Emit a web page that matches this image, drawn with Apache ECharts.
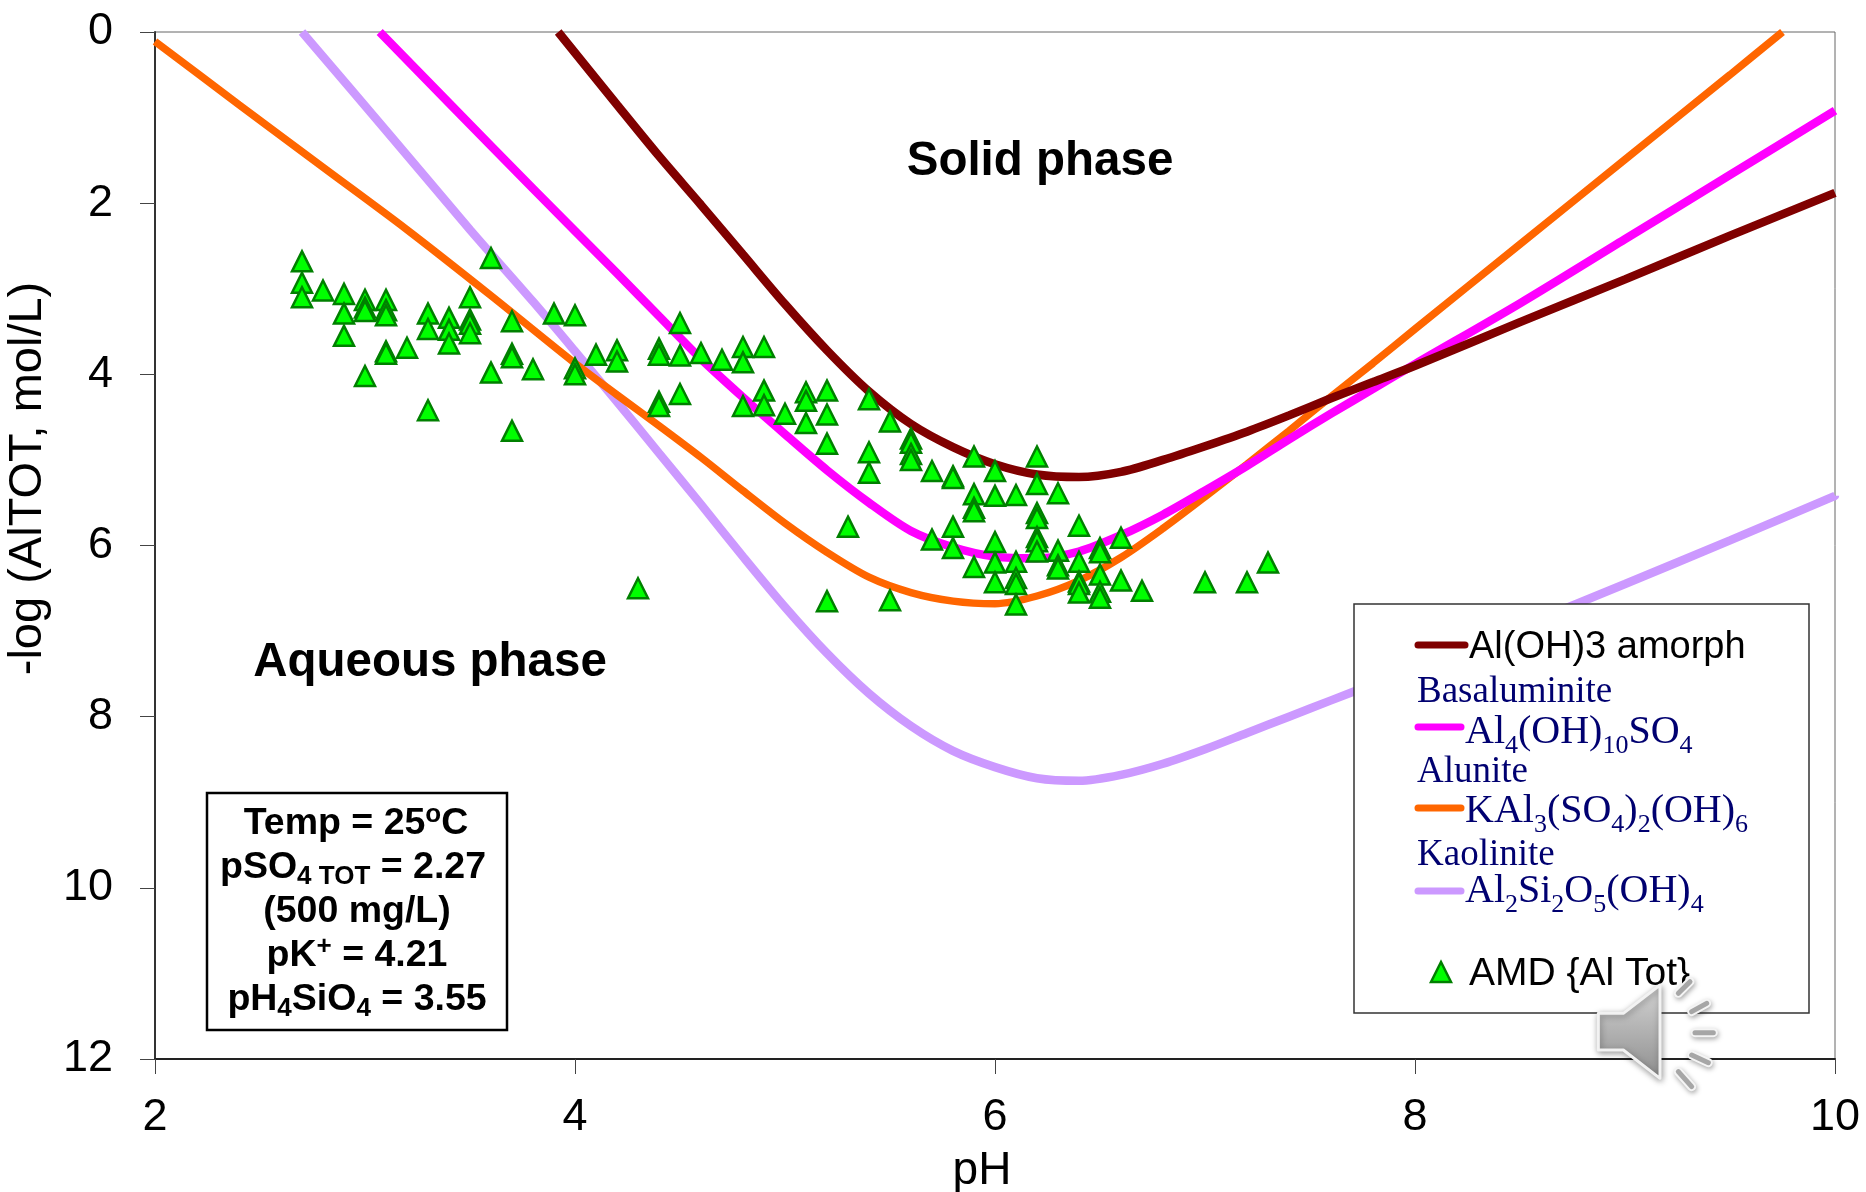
<!DOCTYPE html>
<html><head><meta charset="utf-8">
<style>html,body{margin:0;padding:0;background:#fff}#c{width:1866px;height:1192px}</style>
<script src="https://cdn.jsdelivr.net/npm/echarts@6/dist/echarts.min.js"></script>
</head><body><div id="c"></div>
<script>
const amorph = [[3.92,0],[4.2,0.85],[4.4,1.45],[4.6,2.02],[4.8,2.6],[5.0,3.18],[5.2,3.72],[5.4,4.2],[5.6,4.58],[5.8,4.85],[6.0,5.05],[6.2,5.17],[6.4,5.2],[6.6,5.14],[6.8,5.0],[7.0,4.84],[7.2,4.67],[7.4,4.48],[7.6,4.28],[7.8,4.09],[8,3.9],[8.5,3.39],[9,2.89],[9.5,2.38],[10,1.88]];
const basaluminite = [[3.07,0],[3.4,0.83],[3.8,1.83],[4.2,2.82],[4.4,3.32],[4.6,3.82],[4.8,4.27],[5.0,4.7],[5.2,5.12],[5.4,5.5],[5.6,5.83],[5.8,6.02],[6.0,6.13],[6.2,6.15],[6.4,6.07],[6.6,5.88],[6.8,5.64],[7.0,5.36],[7.2,5.07],[7.4,4.76],[7.6,4.46],[7.8,4.17],[8,3.88],[8.5,3.17],[9,2.42],[9.5,1.67],[10,0.92]];
const alunite = [[2,0.11],[2.4,0.85],[2.8,1.58],[3.2,2.31],[3.6,3.08],[4.0,3.87],[4.2,4.24],[4.4,4.6],[4.6,4.97],[4.8,5.36],[5.0,5.74],[5.2,6.08],[5.4,6.37],[5.6,6.55],[5.8,6.65],[6.0,6.68],[6.2,6.59],[6.4,6.41],[6.6,6.14],[6.8,5.8],[7.0,5.43],[7.2,5.05],[7.4,4.66],[7.6,4.26],[7.8,3.87],[8,3.47],[8.5,2.48],[9,1.49],[9.5,0.5],[9.75,0]];
const kaolinite = [[2.7,0],[3.1,1.15],[3.5,2.31],[3.8,3.15],[4.0,3.73],[4.2,4.32],[4.4,4.92],[4.6,5.52],[4.8,6.13],[5.0,6.72],[5.2,7.26],[5.4,7.73],[5.6,8.11],[5.8,8.4],[6.0,8.59],[6.2,8.72],[6.4,8.75],[6.6,8.68],[6.8,8.55],[7.0,8.38],[7.2,8.19],[7.4,8.0],[7.6,7.81],[7.8,7.62],[8,7.43],[8.5,6.95],[9,6.45],[9.5,5.94],[10,5.42]];
const amdPH = [2.7,2.7,2.7,2.8,2.9,2.9,2.9,3.0,3.0,3.0,3.0,3.1,3.1,3.1,3.1,3.1,3.2,3.3,3.3,3.3,3.4,3.4,3.4,3.5,3.5,3.5,3.5,3.6,3.6,3.7,3.7,3.7,3.7,3.8,3.9,4.0,4.0,4.0,4.1,4.2,4.2,4.3,4.4,4.4,4.4,4.4,4.5,4.5,4.5,4.6,4.7,4.8,4.8,4.8,4.9,4.9,4.9,5.0,5.1,5.1,5.1,5.2,5.2,5.2,5.2,5.3,5.4,5.4,5.4,5.5,5.5,5.6,5.6,5.6,5.6,5.7,5.7,5.8,5.8,5.8,5.8,5.9,5.9,5.9,5.9,5.9,6.0,6.0,6.0,6.0,6.0,6.1,6.1,6.1,6.1,6.1,6.2,6.2,6.2,6.2,6.2,6.2,6.2,6.3,6.3,6.3,6.3,6.4,6.4,6.4,6.4,6.4,6.5,6.5,6.5,6.5,6.5,6.6,6.6,6.7,7.0,7.2,7.3];
const amdLog = [2.68,2.93,3.10,3.02,3.06,3.29,3.55,3.13,3.22,3.26,4.02,3.13,3.25,3.31,3.73,3.76,3.69,3.29,3.47,4.42,3.34,3.48,3.64,3.10,3.36,3.41,3.52,2.64,3.98,3.38,3.76,3.80,4.66,3.94,3.29,3.31,3.93,4.0,3.77,3.72,3.85,6.5,3.70,3.77,4.32,4.37,3.40,3.78,4.23,3.75,3.83,3.68,3.86,4.37,3.68,4.19,4.36,4.46,4.21,4.31,4.57,4.19,4.47,4.81,6.65,5.78,4.29,4.91,5.15,4.55,6.64,4.75,4.80,4.93,5.0,5.13,5.93,5.19,5.21,5.78,6.03,4.96,5.4,5.56,5.6,6.25,5.13,5.42,5.96,6.2,6.43,5.41,6.19,6.38,6.45,6.69,4.96,5.28,5.62,5.68,5.9,5.95,6.07,5.39,6.06,6.23,6.27,5.77,6.19,6.42,6.45,6.55,6.03,6.08,6.34,6.54,6.61,5.91,6.41,6.53,6.43,6.43,6.2];
const xTicks = [2,10,2];
const yTicks = [0,12,2];
const curveNames = ['Al(OH)3 amorph','Basaluminite Al4(OH)10SO4','Alunite KAl3(SO4)2(OH)6','Kaolinite Al2Si2O5(OH)4'];
const curveColors = ['#800000','#ff00ff','#ff6600','#cc99ff'];

const sans = '"Liberation Sans", Arial, sans-serif';
const serif = '"Liberation Serif", "Times New Roman", serif';
const chart = echarts.init(document.getElementById('c'), null, {renderer:'canvas'});

function curve(name,color,data,width){
  return {name,type:'line',data,symbol:'none',smooth:0.3,clip:true,z:2,
    lineStyle:{color,width,cap:'butt'}};
}
const navy = '#000070';
const serifRich = {
  n:{fontFamily:serif,fontSize:37,fill:navy,lineHeight:54},
  b:{fontFamily:serif,fontSize:40,fill:navy,lineHeight:54},
  s:{fontFamily:serif,fontSize:26,fill:navy,verticalAlign:'bottom'}
};
function legendText(x,cy,text){
  return {type:'text',x,y:cy,z:20,style:{text,verticalAlign:'middle',align:'left',rich:serifRich}};
}
function legendLine(x1,x2,y,color){
  return {type:'line',z:20,shape:{x1,y1:y,x2,y2:y},style:{stroke:color,lineWidth:7,lineCap:'round'}};
}
const infoRich = {
  b:{fontFamily:sans,fontWeight:'bold',fontSize:37.5,fill:'#000',lineHeight:44},
  s:{fontFamily:sans,fontWeight:'bold',fontSize:26,fill:'#000',verticalAlign:'bottom'},
  u:{fontFamily:sans,fontWeight:'bold',fontSize:26,fill:'#000',verticalAlign:'top'}
};
function infoLine(x,cy,text){
  return {type:'text',x,y:cy,z:20,style:{text,align:'center',verticalAlign:'middle',rich:infoRich}};
}
function ray(x1,y1,x2,y2){
  const o = 1340, p = 590;
  const s = {x1:o+x1/3,y1:p+y1/3,x2:o+x2/3,y2:p+y2/3};
  return [
    {type:'line',z:31,shape:s,style:{stroke:'#f4f4f4',lineWidth:9,lineCap:'round',shadowBlur:5,shadowColor:'rgba(0,0,0,.35)',shadowOffsetX:1,shadowOffsetY:2}},
    {type:'line',z:32,shape:s,style:{stroke:'#a6a6a6',lineWidth:5,lineCap:'round'}}
  ];
}
const speakerPts = [[775,1270],[850,1270],[960,1185],[960,1465],[850,1380],[775,1380]].map(p=>[1340+p[0]/3,590+p[1]/3]);

chart.setOption({
  animation:false,
  backgroundColor:'#fff',
  grid:{left:155,top:32,width:1680,height:1027,outerBoundsMode:'none',show:true,borderColor:'#666',borderWidth:1,backgroundColor:'transparent'},
  xAxis:{type:'value',min:xTicks[0],max:xTicks[1],interval:xTicks[2],position:'bottom',
    name:'pH',nameLocation:'middle',nameGap:89,
    nameTextStyle:{fontFamily:sans,fontSize:46,color:'#000',padding:[0,26,0,0]},
    axisLine:{show:true,onZero:false,lineStyle:{color:'#222',width:2}},
    axisTick:{show:true,length:15,lineStyle:{color:'#444',width:1}},
    axisLabel:{fontFamily:sans,fontSize:45,color:'#000',margin:36},
    splitLine:{show:false}},
  yAxis:{type:'value',min:yTicks[0],max:yTicks[1],interval:yTicks[2],inverse:true,
    name:'-log (AlTOT, mol/L)',nameLocation:'middle',nameGap:93,nameRotate:90,
    nameTextStyle:{fontFamily:sans,fontSize:47,color:'#000',padding:[0,0,0,134]},
    axisLine:{show:true,onZero:false,lineStyle:{color:'#333',width:2}},
    axisTick:{show:true,length:15,lineStyle:{color:'#444',width:1}},
    axisLabel:{fontFamily:sans,fontSize:45,color:'#000',margin:42},
    splitLine:{show:false}},
  series:[
    curve(curveNames[3],curveColors[3],kaolinite,8.5),
    curve(curveNames[2],curveColors[2],alunite,7.5),
    curve(curveNames[1],curveColors[1],basaluminite,8.5),
    curve(curveNames[0],curveColors[0],amorph,8.5),
    {name:'AMD {Al Tot}',type:'scatter',symbol:'triangle',symbolSize:20,z:5,
     data:amdPH.map((p,i)=>[p,amdLog[i]]),
     itemStyle:{color:'#00ff00',borderColor:'#008000',borderWidth:2.5,opacity:1}}
  ],
  graphic:[
    {type:'text',x:1040,y:162,z:20,style:{text:'Solid phase',font:'bold 47.5px '+sans,fill:'#000',align:'center',verticalAlign:'middle'}},
    {type:'text',x:430,y:663,z:20,style:{text:'Aqueous phase',font:'bold 47.5px '+sans,fill:'#000',align:'center',verticalAlign:'middle'}},

    {type:'rect',z:19,shape:{x:207,y:793,width:300,height:237},style:{fill:'#fff',stroke:'#000',lineWidth:2.5}},
    infoLine(356,824,'{b|Temp = 25}{u|o}{b|C}'),
    infoLine(353,868,'{b|pSO}{s|4 TOT}{b| = 2.27}'),
    infoLine(357,912,'{b|(500 mg/L)}'),
    infoLine(357,956,'{b|pK}{u|+}{b| = 4.21}'),
    infoLine(357,1000,'{b|pH}{s|4}{b|SiO}{s|4}{b| = 3.55}'),

    {type:'rect',z:19,shape:{x:1354,y:604,width:455,height:409},style:{fill:'#fff',stroke:'#333',lineWidth:1.5}},
    legendLine(1418,1465,645,curveColors[0]),
    {type:'text',x:1469,y:648,z:20,style:{text:'Al(OH)3 amorph',font:'38px '+sans,fill:'#000',align:'left',verticalAlign:'middle'}},
    legendText(1417,692,'{n|Basaluminite}'),
    legendLine(1418,1461,727,curveColors[1]),
    legendText(1465,732,'{b|Al}{s|4}{b|(OH)}{s|10}{b|SO}{s|4}'),
    legendText(1417,772,'{n|Alunite}'),
    legendLine(1418,1461,808,curveColors[2]),
    legendText(1465,811,'{b|KAl}{s|3}{b|(SO}{s|4}{b|)}{s|2}{b|(OH)}{s|6}'),
    legendText(1417,855,'{n|Kaolinite}'),
    legendLine(1418,1461,891,curveColors[3]),
    legendText(1465,891,'{b|Al}{s|2}{b|Si}{s|2}{b|O}{s|5}{b|(OH)}{s|4}'),
    {type:'polygon',z:20,shape:{points:[[1441,962],[1431,982],[1451,982]]},style:{fill:'#00ff00',stroke:'#008000',lineWidth:2.5}},
    {type:'text',x:1469,y:974,z:20,style:{text:'AMD {Al Tot}',font:'39px '+sans,fill:'#000',align:'left',verticalAlign:'middle'}},

    {type:'polygon',z:30,shape:{points:speakerPts,smooth:0},style:{
      fill:{type:'linear',x:0,y:0,x2:0,y2:1,colorStops:[{offset:0,color:'#d4d4d4'},{offset:1,color:'#8e8e8e'}]},
      stroke:'#f2f2f2',lineWidth:3,lineJoin:'round',shadowBlur:6,shadowColor:'rgba(0,0,0,.35)',shadowOffsetX:1,shadowOffsetY:2}},
    ...ray(1015,1210,1050,1175),
    ...ray(1055,1265,1100,1240),
    ...ray(1065,1328,1120,1328),
    ...ray(1055,1395,1105,1418),
    ...ray(1015,1445,1055,1490)
  ]
});
</script></body></html>
